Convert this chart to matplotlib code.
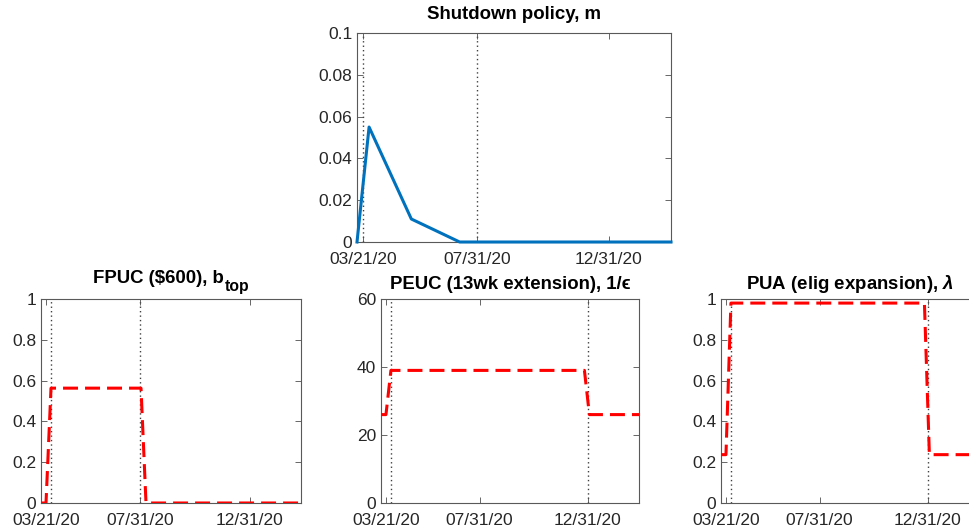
import numpy as np
import pandas as pd
import matplotlib
matplotlib.use('Agg')
import matplotlib.pyplot as plt
import matplotlib.dates as mdates
from matplotlib.ticker import FuncFormatter
from matplotlib.transforms import offset_copy

# policy paths (weekly model, only the kink points are listed)
shutdown_dates = ['2020-03-14', '2020-03-28', '2020-05-16', '2020-07-11', '2021-03-13']
shutdown_m = [0.0, 0.055, 0.011, 0.0, 0.0]

fpuc_dates = ['2020-03-14', '2020-03-21', '2020-03-28', '2020-08-01', '2020-08-08', '2021-03-13']
fpuc_btop = [0.0, 0.0, 0.563, 0.563, 0.0, 0.0]

peuc_dates = ['2020-03-14', '2020-03-21', '2020-03-28', '2020-12-26', '2021-01-02', '2021-03-13']
peuc_inv_eps = [26, 26, 39, 39, 26, 26]

pua_dates = ['2020-03-14', '2020-03-21', '2020-03-28', '2020-12-26', '2021-01-02', '2021-03-13']
pua_lambda = [0.237, 0.237, 0.98, 0.98, 0.237, 0.237]

tick_dates = ['2020-03-21', '2020-07-31', '2020-12-31']
x_range = ['2020-03-14', '2021-03-13']

plt.rcParams['font.family'] = ['Liberation Sans', 'DejaVu Sans']
plt.rcParams['mathtext.fontset'] = 'custom'
plt.rcParams['mathtext.rm'] = 'Liberation Sans'
plt.rcParams['mathtext.it'] = 'Liberation Sans:italic'
plt.rcParams['mathtext.bf'] = 'Liberation Sans:bold'
plt.rcParams['mathtext.bfit'] = 'Liberation Sans:bold:italic'

fig = plt.figure(figsize=(9.69, 5.29), dpi=100)

W, H = 969, 529
def box(l, t, w, h):
    return [l / W, 1 - (t + h) / H, w / W, h / H]

TITLE_FS = 13.4

panels = [
    dict(pos=box(357, 33, 314, 209), dates=shutdown_dates, vals=shutdown_m,
         title='Shutdown policy, m', vlines=['2020-03-21', '2020-07-31'],
         ylim=(0, 0.1), yticks=[0, 0.02, 0.04, 0.06, 0.08, 0.1], kind='blue'),
    dict(pos=box(41, 299, 260, 204), dates=fpuc_dates, vals=fpuc_btop,
         title=None, vlines=['2020-03-28', '2020-07-31'],
         ylim=(0, 1), yticks=[0, 0.2, 0.4, 0.6, 0.8, 1], kind='red'),
    dict(pos=box(381, 299, 258, 204), dates=peuc_dates, vals=peuc_inv_eps,
         title='PEUC (13wk extension), 1/\u03f5', vlines=['2020-03-28', '2020-12-31'],
         ylim=(0, 60), yticks=[0, 20, 40, 60], kind='red'),
    dict(pos=box(721, 299, 258, 204), dates=pua_dates, vals=pua_lambda,
         title=r'PUA (elig expansion), $\mathbfit{\lambda}$', vlines=['2020-03-28', '2020-12-31'],
         ylim=(0, 1), yticks=[0, 0.2, 0.4, 0.6, 0.8, 1], kind='red'),
]

axes = []
for p in panels:
    ax = fig.add_axes(p['pos'])
    x = pd.to_datetime(p['dates'])
    for v in p['vlines']:
        ax.axvline(pd.Timestamp(v), color='0.25', linestyle=(0, (1, 2.2)), linewidth=1.0, zorder=1)
    if p['kind'] == 'blue':
        ax.plot(x, p['vals'], color='#0072BD', linewidth=2.2, zorder=3, clip_on=False)
    else:
        ax.plot(x, p['vals'], color='#FF0000', linewidth=2.2, linestyle=(0, (4.9, 2.3)), zorder=3)
    ax.set_xlim(pd.Timestamp(x_range[0]), pd.Timestamp(x_range[1]))
    ax.set_ylim(*p['ylim'])
    ax.set_yticks(p['yticks'])
    ax.yaxis.set_major_formatter(FuncFormatter(lambda v, pos: '%g' % v))
    ax.set_xticks(pd.to_datetime(tick_dates))
    ax.xaxis.set_major_formatter(mdates.DateFormatter('%m/%d/%y'))
    ax.tick_params(direction='in', top=True, right=True, length=4, width=0.6,
                   color='0.3', labelcolor='#262626', labelsize=12.5)
    ax.tick_params(axis='y', pad=3.5)
    ax.tick_params(axis='x', pad=7)
    for s in ax.spines.values():
        s.set_color('0.35')
        s.set_linewidth(0.8)
    if p['title']:
        ax.set_title(p['title'], fontsize=TITLE_FS, fontweight='bold', pad=10 if p['kind'] == 'blue' else 7)
    axes.append(ax)

# FPUC title: MATLAB-style subscript (larger than mathtext's)
ax = axes[1]
fig.canvas.draw()
r = fig.canvas.get_renderer()
main = ax.text(0.5, 1, 'FPUC ($600), b', transform=ax.transAxes, fontsize=TITLE_FS,
               fontweight='bold', ha='left', va='baseline')
sub = ax.text(0.5, 1, 'top', transform=ax.transAxes, fontsize=TITLE_FS * 0.85,
              fontweight='bold', ha='left', va='baseline')
w1 = main.get_window_extent(r).width * 72 / fig.dpi
w2 = sub.get_window_extent(r).width * 72 / fig.dpi
main.set_transform(offset_copy(ax.transAxes, fig=fig, x=-(w1 + w2) / 2, y=11.5, units='points'))
sub.set_transform(offset_copy(ax.transAxes, fig=fig, x=-(w1 + w2) / 2 + w1 + 0.5, y=6.0, units='points'))

fig.savefig('out.png', dpi=100)
